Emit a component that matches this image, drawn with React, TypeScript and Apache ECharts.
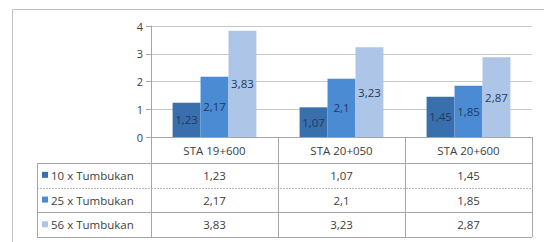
import React, { useEffect, useRef } from "react";
import * as echarts from "echarts";

const categories = ["STA 19+600", "STA 20+050", "STA 20+600"];
const seriesNames = ["10 x Tumbukan", "25 x Tumbukan", "56 x Tumbukan"];
const s10 = [1.23, 1.07, 1.45];
const s25 = [2.17, 2.1, 1.85];
const s56 = [3.83, 3.23, 2.87];
const yTicks = [0, 1, 2, 3, 4];
const colors = ["#3a6fae", "#4b8bd4", "#adc6e8"];

const fmt = (v: number) => String(v).replace(".", ",");

export default function App() {
  const ref = useRef<HTMLDivElement>(null);
  useEffect(() => {
    if (!ref.current) return;
    const chart = echarts.init(ref.current, null, { renderer: "svg" });
    const allSeries = [s10, s25, s56];
    const font = "'Open Sans', 'DejaVu Sans', sans-serif";
    const option: any = {
      animation: false,
      grid: { left: 151, right: 12, top: 26, bottom: 105, containLabel: false },
      xAxis: {
        type: "category",
        data: categories,
        axisLine: { show: true, lineStyle: { color: "#a6a6a6", width: 1 } },
        axisTick: { show: true, length: 100, lineStyle: { color: "#a6a6a6" } },
        axisLabel: { margin: 7, color: "#404040", fontSize: 11.5, fontFamily: font },
      },
      yAxis: {
        type: "value",
        min: yTicks[0],
        max: yTicks[yTicks.length - 1],
        interval: 1,
        axisLine: { show: true, lineStyle: { color: "#a6a6a6" } },
        axisTick: { show: true, length: 5, lineStyle: { color: "#a6a6a6" } },
        axisLabel: { margin: 8, color: "#404040", fontSize: 11, fontFamily: font },
        splitLine: { lineStyle: { color: "#c8c8c8" } },
      },
      series: allSeries.map((d, i) => ({
        name: seriesNames[i],
        type: "bar",
        data: d,
        barGap: "0%",
        barCategoryGap: "34%",
        itemStyle: { color: colors[i] },
        label: {
          show: true,
          position: "inside",
          color: "#1f3a60",
          fontSize: 11.5,
          fontFamily: font,
          formatter: (p: any) => fmt(p.value),
        },
      })),
    };
    chart.setOption(option);

    const xs = categories.map((c) => chart.convertToPixel({ xAxisIndex: 0 }, c) as number);
    const y0 = chart.convertToPixel({ yAxisIndex: 0 }, 0) as number;
    const tableLeft = 37;
    const tableRight = 532;
    const headerBottom = y0 + 26;
    const rowH = 24.7;
    const graphics: any[] = [];
    graphics.push({
      type: "polyline",
      shape: { points: [[12.5, 250], [12.5, 9.5], [560, 9.5]] },
      style: { stroke: "#c0c0c0", fill: "none", lineWidth: 1 },
      silent: true,
    });
    for (let r = 0; r <= 3; r++) {
      const y = Math.round(headerBottom + r * rowH) + 0.5;
      graphics.push({
        type: "line",
        shape: { x1: tableLeft, y1: y, x2: tableRight, y2: y },
        style: { stroke: r === 1 ? "#b8b8b8" : "#a6a6a6", lineWidth: 1, lineDash: r === 1 ? [2, 1] : null },
        silent: true,
      });
    }
    graphics.push({
      type: "line",
      shape: { x1: tableLeft + 0.5, y1: headerBottom, x2: tableLeft + 0.5, y2: headerBottom + 3 * rowH },
      style: { stroke: "#a6a6a6", lineWidth: 1 },
      silent: true,
    });
    allSeries.forEach((d, r) => {
      const cy = headerBottom + r * rowH + rowH / 2;
      graphics.push({
        type: "rect",
        shape: { x: 42, y: cy - 3.5, width: 6, height: 6 },
        style: { fill: colors[r] },
        silent: true,
      });
      graphics.push({
        type: "text",
        x: 51,
        y: cy,
        style: {
          text: seriesNames[r],
          fill: "#404040",
          fontSize: 11.5,
          fontFamily: font,
          verticalAlign: "middle",
          align: "left",
        },
        silent: true,
      });
      d.forEach((v, c) => {
        graphics.push({
          type: "text",
          x: xs[c],
          y: cy,
          style: {
            text: fmt(v),
            fill: "#404040",
            fontSize: 11.5,
            fontFamily: font,
            verticalAlign: "middle",
            align: "center",
          },
          silent: true,
        });
      });
    });
    chart.setOption({ graphic: graphics });
    return () => chart.dispose();
  }, []);
  return (
    <div
      ref={ref}
      style={{ position: "absolute", left: 0, top: 0, width: 544, height: 242, background: "#fff" }}
    />
  );
}
